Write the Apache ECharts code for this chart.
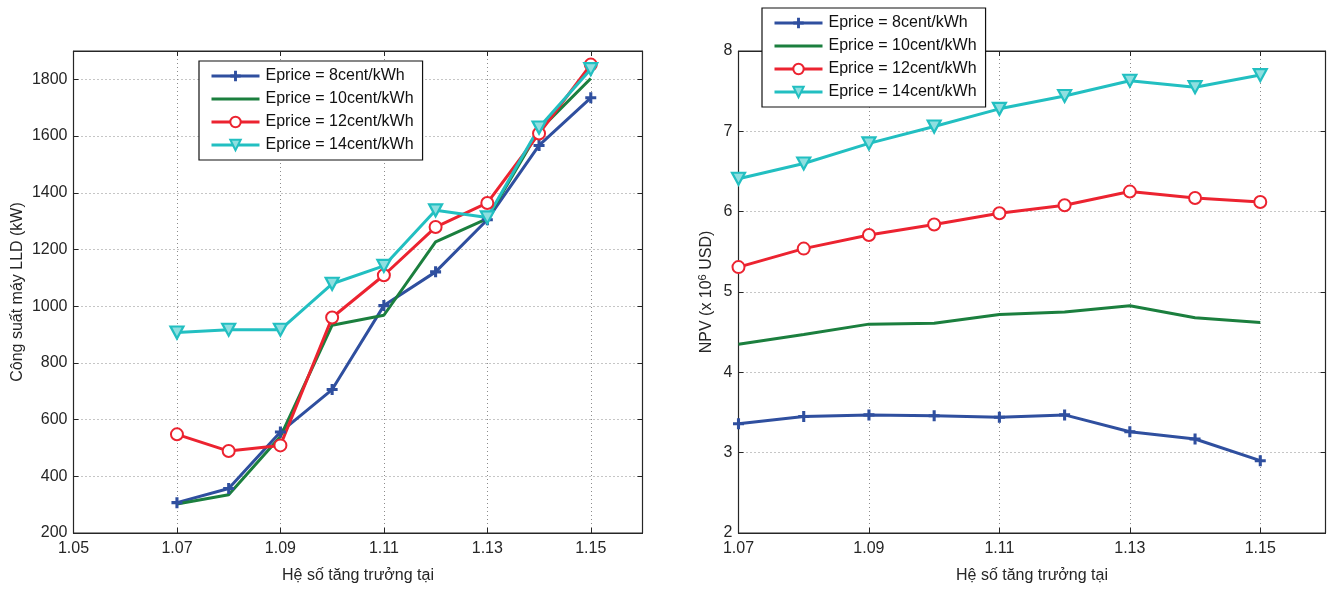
<!DOCTYPE html>
<html>
<head>
<meta charset="utf-8">
<script src="https://cdn.jsdelivr.net/npm/echarts@6/dist/echarts.min.js"></script>
<style>
  html, body { margin: 0; padding: 0; background: #fff; }
  #chart { width: 1327px; height: 590px; }
</style>
</head>
<body>
<div id="chart"></div>
<script>
// hệ số tăng trưởng tải (trục x)
const growth = [1.07, 1.08, 1.09, 1.10, 1.11, 1.12, 1.13, 1.14, 1.15];
const seriesNames = ['Eprice = 8cent/kWh', 'Eprice = 10cent/kWh', 'Eprice = 12cent/kWh', 'Eprice = 14cent/kWh'];

// công suất máy LLD (kW)
const power8 = [307, 357, 556, 706, 1002, 1121, 1305, 1567, 1735];
const power10 = [302, 335, 540, 933, 968, 1227, 1309, 1620, 1803];
const power12 = [548, 489, 509, 960, 1109, 1279, 1364, 1609, 1852];
const power14 = [907, 917, 917, 1079, 1142, 1338, 1313, 1630, 1836];

// NPV (x 10^6 USD)
const npv8 = [3.36, 3.45, 3.47, 3.46, 3.44, 3.47, 3.26, 3.17, 2.90];
const npv10 = [4.35, 4.47, 4.60, 4.61, 4.72, 4.75, 4.83, 4.68, 4.62];
const npv12 = [5.31, 5.54, 5.71, 5.84, 5.98, 6.08, 6.25, 6.17, 6.12];
const npv14 = [6.41, 6.60, 6.85, 7.06, 7.28, 7.44, 7.63, 7.55, 7.70];

const leftTicksX = { min: 1.05, max: 1.16, interval: 0.02 };
const rightTicksX = { min: 1.07, max: 1.16, interval: 0.02 };
const leftTicksY = { min: 200, max: 1900, interval: 200 };
const rightTicksY = { min: 2, max: 8, interval: 1 };

const colors = ['#2f4f9f', '#1b7f3e', '#ec2330', '#22bfc1'];
const font = 'Liberation Sans, Arial, sans-serif';
const ink = '#262626';

const plusPath = 'path://M3.6,0H6.4V3.6H10V6.4H6.4V10H3.6V6.4H0V3.6H3.6Z';
const trianglePath = 'path://M0,0L10,0L5,9Z';

function pairs(values) {
    return growth.map((g, i) => [g, values[i]]);
}

function makeSeries(values, idx, axisIdx) {
    const s = {
        name: seriesNames[idx],
        type: 'line',
        xAxisIndex: axisIdx,
        yAxisIndex: axisIdx,
        data: pairs(values),
        color: colors[idx],
        lineStyle: { width: 3, color: colors[idx] },
        showSymbol: true,
        animation: false,
        z: 3
    };
    if (idx === 0) {
        s.symbol = plusPath;
        s.symbolSize = 11;
        s.itemStyle = { color: colors[0] };
    } else if (idx === 1) {
        s.symbol = 'none';
    } else if (idx === 2) {
        s.symbol = 'emptyCircle';
        s.symbolSize = 12;
        s.itemStyle = { color: colors[2], borderColor: colors[2], borderWidth: 2.5 };
    } else {
        s.symbol = trianglePath;
        s.symbolSize = [13, 12];
        s.itemStyle = { color: '#8fdfe0', borderColor: colors[3], borderWidth: 2.2 };
    }
    return s;
}

function mainX(t, gridIdx) {
    return {
        type: 'value', gridIndex: gridIdx, position: 'bottom',
        min: t.min, max: t.max, interval: t.interval,
        name: 'Hệ số tăng trưởng tại', nameLocation: 'middle', nameGap: 35,
        nameTextStyle: { fontFamily: font, fontSize: 16, color: ink },
        axisLine: { show: true, onZero: false, lineStyle: { color: ink, width: 1.2 } },
        axisTick: { show: true, inside: true, length: 5, lineStyle: { color: ink } },
        axisLabel: {
            fontFamily: font, fontSize: 16, color: ink, margin: 8, showMaxLabel: false,
            formatter: v => v.toFixed(2)
        },
        splitLine: { show: true, lineStyle: { color: '#8c8c8c', type: [1, 3], width: 1 } }
    };
}

function mirrorX(t, gridIdx) {
    return {
        type: 'value', gridIndex: gridIdx, position: 'top',
        min: t.min, max: t.max, interval: t.interval,
        axisLine: { show: true, onZero: false, lineStyle: { color: ink, width: 1.2 } },
        axisTick: { show: true, inside: true, length: 5, lineStyle: { color: ink } },
        axisLabel: { show: false },
        splitLine: { show: false }
    };
}

function mainY(t, gridIdx, name, gap) {
    return {
        type: 'value', gridIndex: gridIdx, position: 'left',
        min: t.min, max: t.max, interval: t.interval,
        name: name, nameLocation: 'middle', nameGap: gap,
        nameTextStyle: {
            fontFamily: font, fontSize: 16, color: ink,
            rich: {
                n: { fontFamily: font, fontSize: 16, color: ink },
                sup: { fontFamily: font, fontSize: 11, color: ink, verticalAlign: 'top', padding: [0, 0, 8, 0] }
            }
        },
        axisLine: { show: true, onZero: false, lineStyle: { color: ink, width: 1.2 } },
        axisTick: { show: true, inside: true, length: 5, lineStyle: { color: ink } },
        axisLabel: {
            fontFamily: font, fontSize: 16, color: ink, margin: 6,
            showMaxLabel: t.max % t.interval === 0,
            formatter: v => String(v)
        },
        splitLine: { show: true, lineStyle: { color: '#8c8c8c', type: [1, 3], width: 1 } }
    };
}

function mirrorY(t, gridIdx) {
    return {
        type: 'value', gridIndex: gridIdx, position: 'right',
        min: t.min, max: t.max, interval: t.interval,
        axisLine: { show: true, onZero: false, lineStyle: { color: ink, width: 1.2 } },
        axisTick: { show: true, inside: true, length: 5, lineStyle: { color: ink } },
        axisLabel: { show: false },
        splitLine: { show: false }
    };
}

function legendItems() {
    return seriesNames.map((n, i) => i === 1 ? { name: n, itemStyle: { opacity: 0 } } : { name: n });
}

function makeLegend(left, top) {
    return {
        data: legendItems(),
        orient: 'vertical',
        left: left, top: top,
        itemWidth: 48, itemHeight: 13, itemGap: 7,
        padding: [7, 9, 7, 11],
        backgroundColor: '#fff',
        borderColor: '#111', borderWidth: 1.2,
        lineStyle: { width: 3 },
        textStyle: { fontFamily: font, fontSize: 16, color: '#111', padding: [0, 0, 0, 1] },
        selectedMode: false,
        z: 10
    };
}

const chart = echarts.init(document.getElementById('chart'));
chart.setOption({
    backgroundColor: '#fff',
    animation: false,
    grid: [
        { left: 73.5, top: 51, width: 569, height: 482, show: true, borderColor: ink, borderWidth: 1 },
        { left: 738.5, top: 51, width: 587, height: 482, show: true, borderColor: ink, borderWidth: 1 }
    ],
    xAxis: [mainX(leftTicksX, 0), mirrorX(leftTicksX, 0), mainX(rightTicksX, 1), mirrorX(rightTicksX, 1)],
    yAxis: [
        mainY(leftTicksY, 0, 'Công suất máy LLD (kW)', 48),
        mirrorY(leftTicksY, 0),
        mainY(rightTicksY, 1, '{n|NPV (x 10}{sup|6}{n| USD)}', 22),
        mirrorY(rightTicksY, 1)
    ],
    legend: [makeLegend(199, 61), makeLegend(762, 8)],
    series: [
        makeSeries(power8, 0, 0),
        makeSeries(power10, 1, 0),
        makeSeries(power12, 2, 0),
        makeSeries(power14, 3, 0),
        makeSeries(npv8, 0, 2),
        makeSeries(npv10, 1, 2),
        makeSeries(npv12, 2, 2),
        makeSeries(npv14, 3, 2)
    ]
});
</script>
</body>
</html>
